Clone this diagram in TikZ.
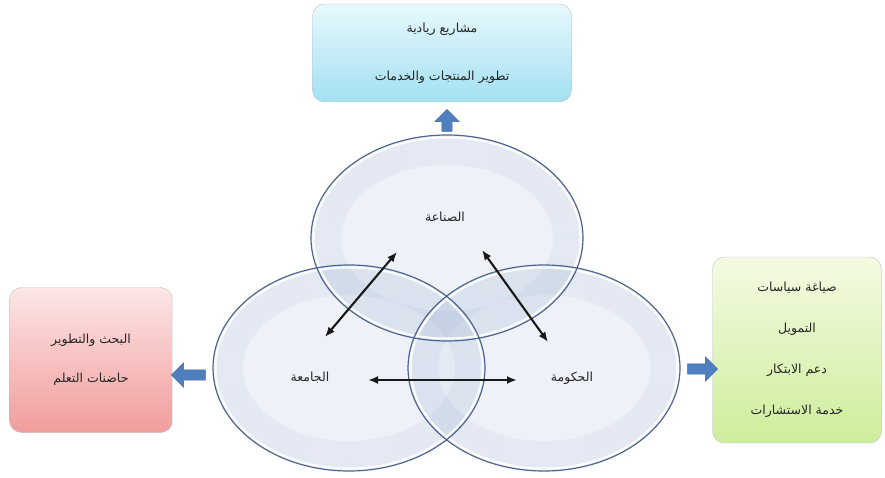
\documentclass[tikz,border=0pt]{standalone}
\usepackage{fontspec}
\newfontfamily\arabicfont[Script=Arabic]{DejaVu Sans}
\TeXXeTstate=1
\usetikzlibrary{shapes.geometric,shapes.arrows,arrows.meta}

\newcommand{\artext}[1]{{\arabicfont\beginR #1\endR}}

\definecolor{ringfill}{HTML}{D6DFEE}
\definecolor{ringband}{HTML}{7F98C2}
\definecolor{ringout}{HTML}{4E6590}
\definecolor{arrowblue}{HTML}{4F7FBF}
\definecolor{boxline}{HTML}{B9C0C4}
\definecolor{cyantop}{HTML}{E8F8FC}
\definecolor{cyanbot}{HTML}{A3E0F2}
\definecolor{pinktop}{HTML}{FCE6E6}
\definecolor{pinkbot}{HTML}{F29C9C}
\definecolor{greentop}{HTML}{F4FAE2}
\definecolor{greenbot}{HTML}{CDEE9C}

\begin{document}
\begin{tikzpicture}[x=1pt, y=-1pt,
    box/.style={draw=boxline, rounded corners=12pt, align=center, inner sep=0pt, font=\fontsize{12.5}{15}\selectfont, text=black!85},
    ring/.style={ellipse, draw=ringout, line width=1.2pt, minimum width=272pt, minimum height=206pt},
    word/.style={font=\fontsize{12.5}{15}\selectfont, text=black!85},
    blockarrow/.style={single arrow, fill=arrowblue, draw=arrowblue!80!black, inner sep=5pt, single arrow head extend=7pt, minimum height=#1},
    link/.style={{Latex[length=10pt,width=8pt]}-{Latex[length=10pt,width=8pt]}, line width=2.1pt, black!90}
]
    \useasboundingbox (0,0) rectangle (885,478);

    % Outer boxes
    \node[box, top color=cyantop, bottom color=cyanbot, minimum width=259pt, minimum height=98pt] (projects) at (442,53) {
        \artext{مشاريع ريادية}\\[33pt]
        \artext{تطوير المنتجات والخدمات}
    };
    \node[box, top color=pinktop, bottom color=pinkbot, minimum width=163pt, minimum height=145pt] (research) at (91,360) {
        \artext{البحث والتطوير}\\[24pt]
        \artext{حاضنات التعلم}
    };
    \node[box, top color=greentop, bottom color=greenbot, minimum width=169pt, minimum height=186pt] (policy) at (797,350) {
        \artext{صياغة سياسات}\\[26pt]
        \artext{التمويل}\\[26pt]
        \artext{دعم الابتكار}\\[26pt]
        \artext{خدمة الاستشارات}
    };

    % The three sectors (glassy fill first, outlines on top)
    \foreach \cx/\cy in {349/368, 544/368, 447/238}
        \fill[ringfill, fill opacity=0.42] (\cx,\cy) ellipse [x radius=136pt, y radius=103pt];
    \foreach \cx/\cy in {349/368, 544/368, 447/238}
        \foreach \d in {0,...,6}
            \draw[ringband, line width=4pt, draw opacity=0.085] (\cx,\cy) ellipse [x radius=132pt-\d*4pt, y radius=99pt-\d*4pt];
    \foreach \cx/\cy in {349/368, 544/368, 447/238}
        \draw[white, line width=2pt, draw opacity=0.9] (\cx,\cy) ellipse [x radius=133.5pt, y radius=100.5pt];

    \node[ring] (university) at (349,368) {};
    \node[ring] (government) at (544,368) {};
    \node[ring] (industry) at (447,238) {};

    \node[word] (industrytxt) at (445,217) {\artext{الصناعة}};
    \node[word] (universitytxt) at (310,378) {\artext{الجامعة}};
    \node[word] (governmenttxt) at (572,378) {\artext{الحكومة}};

    % Block arrows to the boxes
    \node[blockarrow=22pt, shape border rotate=90] (toprojects) at (447,123) {};
    \node[blockarrow=34pt, shape border rotate=180] (toresearch) at (191,375) {};
    \node[blockarrow=30pt] (topolicy) at (700,369) {};

    % Links between the sectors
    \coordinate (iu) at (397,252);
    \coordinate (ui) at (325,337);
    \coordinate (ig) at (482,250);
    \coordinate (gi) at (548,342);
    \coordinate (ug) at (368,380);
    \coordinate (gu) at (517,380);
    \draw[link] (iu) -- (ui);
    \draw[link] (ig) -- (gi);
    \draw[link] (ug) -- (gu);

\end{tikzpicture}
\end{document}
